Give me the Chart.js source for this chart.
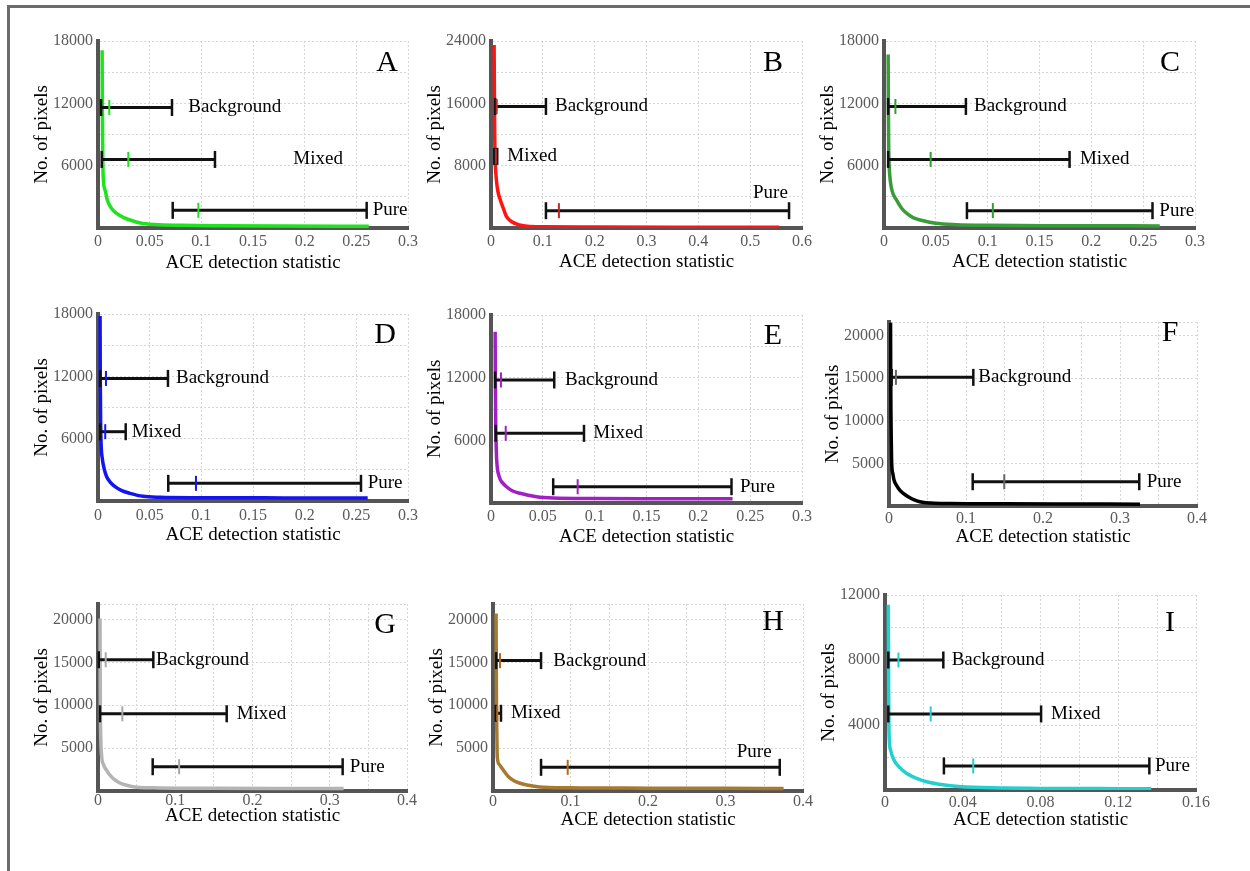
<!DOCTYPE html>
<html>
<head>
<meta charset="utf-8">
<title>ACE detection statistic histograms</title>
<script src="https://cdn.jsdelivr.net/npm/chart.js@4.4.0/dist/chart.umd.min.js"></script>
<style>
  html, body { margin: 0; padding: 0; background: #fff; }
  body { width: 1250px; height: 871px; position: relative; overflow: hidden; }
  .frame { position: absolute; left: 7px; top: 5px; width: 1300px; height: 900px;
           border-top: 3px solid #6b6b6b; border-left: 3px solid #6b6b6b; }
  canvas { position: absolute; }
</style>
</head>
<body>
<div class="frame"></div>
<script>
var SERIF = '"Liberation Serif", "Times New Roman", serif';

var classNames = ['Background', 'Mixed', 'Pure'];
var panelLetters = ['A', 'B', 'C', 'D', 'E', 'F', 'G', 'H', 'I'];

// axis ranges and tick spacing, one entry per panel
var xMax       = [0.3, 0.6, 0.3, 0.3, 0.3, 0.4, 0.4, 0.4, 0.16];
var xGridStep  = [0.05, 0.1, 0.05, 0.05, 0.05, 0.05, 0.05, 0.05, 0.02];
var xLabelStep = [0.05, 0.1, 0.05, 0.05, 0.05, 0.1, 0.1, 0.1, 0.04];
var yMax       = [18000, 24000, 18000, 18000, 18000, 21600, 21800, 21800, 12000];
var yGridStep  = [3000, 4000, 3000, 3000, 3000, 5000, 5000, 5000, 2000];
var yLabelStep = [6000, 8000, 6000, 6000, 6000, 5000, 5000, 5000, 4000];

// histogram curves: [ACE statistic, no. of pixels]
var curveA = [[0.004,17100],[0.0042,12000],[0.0045,8000],[0.005,5000],[0.007,3600],[0.009,2700],[0.013,1900],[0.018,1400],[0.025,1000],[0.031,770],[0.041,480],[0.055,330],[0.08,260],[0.12,220],[0.18,190],[0.262,170]];
var curveB = [[0.006,23500],[0.0065,18000],[0.007,13000],[0.008,9000],[0.01,6500],[0.013,4800],[0.018,3600],[0.025,2300],[0.03,1450],[0.04,800],[0.055,400],[0.07,220],[0.1,160],[0.2,130],[0.35,110],[0.556,100]];
var curveC = [[0.004,16700],[0.0042,12000],[0.0045,8000],[0.005,6000],[0.006,4600],[0.008,3500],[0.012,2700],[0.017,1900],[0.022,1400],[0.028,1000],[0.035,770],[0.05,450],[0.07,320],[0.1,260],[0.18,220],[0.266,200]];
var curveD = [[0.002,17800],[0.0022,12000],[0.0025,8000],[0.003,5500],[0.004,4200],[0.006,3100],[0.0084,2340],[0.012,1800],[0.0165,1380],[0.023,1000],[0.031,740],[0.0435,450],[0.06,360],[0.1,320],[0.18,300],[0.261,290]];
var curveE = [[0.004,16400],[0.0042,12000],[0.0045,8000],[0.005,5500],[0.0055,4100],[0.008,2500],[0.011,1950],[0.015,1560],[0.02,1200],[0.028,930],[0.044,600],[0.06,480],[0.1,430],[0.16,410],[0.233,400]];
var curveF = [[0.002,21500],[0.0022,16000],[0.0025,11000],[0.003,7500],[0.0035,5000],[0.005,3800],[0.0065,3050],[0.01,2400],[0.014,1870],[0.019,1450],[0.025,1090],[0.032,750],[0.04,500],[0.055,350],[0.08,290],[0.15,250],[0.24,230],[0.326,220]];
var curveG = [[0.0026,20100],[0.0028,15000],[0.003,10000],[0.0035,6500],[0.0048,4000],[0.007,3100],[0.011,2430],[0.015,1900],[0.0198,1450],[0.027,1000],[0.037,670],[0.05,450],[0.08,360],[0.15,320],[0.24,300],[0.318,290]];
var curveH = [[0.004,20700],[0.0042,15000],[0.0045,10000],[0.005,6500],[0.0055,4000],[0.008,3100],[0.0133,2430],[0.019,1750],[0.026,1260],[0.035,900],[0.0455,670],[0.06,480],[0.1,380],[0.2,330],[0.3,310],[0.375,300]];
var curveI = [[0.0017,11400],[0.0018,8000],[0.0019,5500],[0.002,4000],[0.0022,3100],[0.003,2400],[0.0046,1850],[0.007,1450],[0.011,1030],[0.016,730],[0.0214,510],[0.028,360],[0.035,250],[0.05,150],[0.08,100],[0.11,85],[0.137,80]];

// class ranges: [min, mean, max, row height in pixels] for Background, Mixed, Pure
var statsA = [[0.003, 0.0109, 0.0716, 11600], [0.0036, 0.0293, 0.1132, 6600], [0.0723, 0.0971, 0.26, 1700]];
var statsB = [[0.008, 0.011, 0.106, 15600], [0.0064, 0.0095, 0.012, 9200], [0.106, 0.131, 0.575, 2220]];
var statsC = [[0.004, 0.011, 0.079, 11700], [0.004, 0.045, 0.179, 6600], [0.080, 0.105, 0.259, 1670]];
var statsD = [[0.002, 0.0077, 0.0677, 11800], [0.002, 0.007, 0.0268, 6670], [0.068, 0.0948, 0.2545, 1700]];
var statsE = [[0.004, 0.0096, 0.061, 11780], [0.0045, 0.0142, 0.0897, 6670], [0.060, 0.0836, 0.232, 1560]];
var statsF = [[0.0035, 0.009, 0.1095, 15100], null, [0.1087, 0.1497, 0.325, 2850]];
var statsG = [[0.001, 0.010, 0.0716, 15300], [0.0026, 0.0315, 0.1666, 9000], [0.0708, 0.105, 0.3167, 2830]];
var statsH = [[0.004, 0.009, 0.062, 15200], [0.0035, 0.0055, 0.0103, 9060], [0.062, 0.0964, 0.370, 2760]];
var statsI = [[0.0017, 0.0069, 0.030, 8000], [0.0017, 0.0235, 0.0803, 4680], [0.0303, 0.0454, 0.136, 1480]];

// where each class name starts: [ACE statistic, no. of pixels]
var labelAtA = [[0.0874, 11600], [0.189, 6600], [0.2658, 1700]];
var labelAtB = [[0.1235, 15600], [0.0315, 9200], [0.5055, 4490]];
var labelAtC = [[0.0868, 11700], [0.189, 6600], [0.2656, 1670]];
var labelAtD = [[0.0755, 11800], [0.0326, 6670], [0.261, 1700]];
var labelAtE = [[0.0714, 11780], [0.0987, 6670], [0.2402, 1560]];
var labelAtF = [[0.116, 15100], null, [0.3347, 2850]];
var labelAtG = [[0.0751, 15300], [0.1795, 9000], [0.326, 2830]];
var labelAtH = [[0.0778, 15200], [0.0232, 9060], [0.3145, 4580]];
var labelAtI = [[0.0343, 8000], [0.0854, 4680], [0.1389, 1480]];

var curves = [curveA, curveB, curveC, curveD, curveE, curveF, curveG, curveH, curveI];
var stats = [statsA, statsB, statsC, statsD, statsE, statsF, statsG, statsH, statsI];
var labelAt = [labelAtA, labelAtB, labelAtC, labelAtD, labelAtE, labelAtF, labelAtG, labelAtH, labelAtI];

// styling
var curveColor = ['#1ee41e', '#ff1414', '#389c38', '#1414f0', '#a020c4', '#000000', '#b4b4b4', '#a87a30', '#22d0d0'];
var meanColor  = ['#1ee41e', '#c02828', '#2fa02f', '#1414f0', '#a020c4', '#666666', '#a8a8a8', '#b06a20', '#22d0d0'];

// plot area of each panel on the page: left, top, right, bottom
var plotBox = [
  [98, 41, 408, 228], [491, 41, 802, 228], [884, 41, 1195, 228],
  [98, 314, 408, 501], [491, 315, 802, 503], [889, 322, 1197, 506],
  [98, 604, 407, 791], [493, 604, 803, 791], [885, 595, 1196, 790]
];
var letterOffset = [[21, 22], [29, 22], [25, 22], [23, 21], [29, 21], [27, 11], [22, 21], [30, 18], [26, 28]];
var xTickGap  = [14, 14, 14, 15, 14, 13, 10, 11, 13];
var xTitleGap = [35, 34, 34, 34, 34, 31, 25, 29, 30];

var Y_AXIS_W = 70, X_AXIS_H = 50, PAD_TOP = 30, PAD_RIGHT = 25;

function fmt(v) { return String(parseFloat(v.toFixed(4))); }
function onStep(v, step) { var r = v / step; return Math.abs(r - Math.round(r)) < 1e-6; }

// evenly spaced ticks from 0, plus the axis end when it is off the step
function stepTicks(max, step) {
  var n = Math.floor(max / step + 1e-6), t = [];
  for (var k = 0; k <= n; k++) t.push({ value: parseFloat((k * step).toFixed(6)) });
  if (Math.abs(n * step - max) > 1e-9) t.push({ value: max });
  return t;
}

var errorBars = {
  id: 'errorBars',
  afterDatasetsDraw: function (chart, args, opts) {
    var ctx = chart.ctx, area = chart.chartArea;
    var xs = chart.scales.x, ys = chart.scales.y;
    var i = opts.panel;
    function seg(x0, y0, x1, y1) { ctx.beginPath(); ctx.moveTo(x0, y0); ctx.lineTo(x1, y1); ctx.stroke(); }
    ctx.save();
    ctx.lineCap = 'butt';
    stats[i].forEach(function (s, k) {
      if (!s) return;
      var x0 = xs.getPixelForValue(s[0]);
      var xm = xs.getPixelForValue(s[1]);
      var x1 = xs.getPixelForValue(s[2]);
      var yy = ys.getPixelForValue(s[3]);
      ctx.strokeStyle = '#111';
      ctx.lineWidth = 3;
      seg(x0, yy, x1, yy);
      ctx.lineWidth = 2.5;
      seg(x0, yy - 8.5, x0, yy + 8.5);
      seg(x1, yy - 8.5, x1, yy + 8.5);
      ctx.strokeStyle = meanColor[i];
      ctx.lineWidth = 2;
      seg(xm, yy - 7.5, xm, yy + 7.5);

      var at = labelAt[i][k];
      ctx.fillStyle = '#000';
      ctx.font = '19px ' + SERIF;
      ctx.textAlign = 'left';
      ctx.textBaseline = 'middle';
      ctx.fillText(classNames[k], xs.getPixelForValue(at[0]), ys.getPixelForValue(at[1]));
    });
    ctx.fillStyle = '#000';
    ctx.font = '30px ' + SERIF;
    ctx.textAlign = 'center';
    ctx.textBaseline = 'middle';
    ctx.fillText(panelLetters[i], area.right - letterOffset[i][0], area.top + letterOffset[i][1]);
    ctx.restore();
  }
};

panelLetters.forEach(function (letter, i) {
  var b = plotBox[i];
  var canvas = document.createElement('canvas');
  var w = (b[2] - b[0]) + Y_AXIS_W + PAD_RIGHT;
  var h = (b[3] - b[1]) + PAD_TOP + X_AXIS_H;
  canvas.width = w;
  canvas.height = h;
  canvas.style.left = (b[0] - Y_AXIS_W) + 'px';
  canvas.style.top = (b[1] - PAD_TOP) + 'px';
  document.body.appendChild(canvas);

  new Chart(canvas.getContext('2d'), {
    type: 'line',
    data: {
      datasets: [{
        data: curves[i].map(function (p) { return { x: p[0], y: p[1] }; }),
        borderColor: curveColor[i],
        borderWidth: 3.5,
        pointRadius: 0,
        fill: false,
        cubicInterpolationMode: 'monotone'
      }]
    },
    options: {
      responsive: false,
      animation: false,
      devicePixelRatio: 1,
      layout: { padding: { top: PAD_TOP, right: PAD_RIGHT, left: 0, bottom: 0 } },
      plugins: {
        legend: { display: false },
        tooltip: { enabled: false },
        errorBars: { panel: i }
      },
      scales: {
        x: {
          type: 'linear',
          min: 0,
          max: xMax[i],
          afterFit: function (s) { s.height = X_AXIS_H; },
          afterBuildTicks: function (s) { s.ticks = stepTicks(xMax[i], xGridStep[i]); },
          ticks: {
            autoSkip: false,
            maxRotation: 0,
            padding: xTickGap[i] - 9.6,
            color: '#5a5a5a',
            font: { family: SERIF, size: 16 },
            callback: function (v) { return onStep(v, xLabelStep[i]) ? fmt(v) : ''; }
          },
          grid: { color: '#d6d6d6', lineWidth: 1, drawTicks: false },
          border: { display: true, color: '#555', width: 4, dash: [2, 2] },
          title: {
            display: true,
            text: 'ACE detection statistic',
            color: '#000',
            font: { family: SERIF, size: 19, lineHeight: 1.2 },
            padding: { top: 0, bottom: X_AXIS_H - xTitleGap[i] - 11.4 }
          }
        },
        y: {
          type: 'linear',
          min: 0,
          max: yMax[i],
          afterFit: function (s) { s.width = Y_AXIS_W; },
          afterBuildTicks: function (s) { s.ticks = stepTicks(yMax[i], yGridStep[i]); },
          ticks: {
            autoSkip: false,
            padding: 5,
            color: '#5a5a5a',
            font: { family: SERIF, size: 16 },
            callback: function (v) { return (v > 0 && onStep(v, yLabelStep[i])) ? String(v) : ''; }
          },
          grid: { color: '#d6d6d6', lineWidth: 1, drawTicks: false },
          border: { display: true, color: '#555', width: 4, dash: [2, 2] },
          title: {
            display: true,
            text: 'No. of pixels',
            color: '#000',
            font: { family: SERIF, size: 19, lineHeight: 1.2 },
            padding: { top: 2.6, bottom: 0 }
          }
        }
      }
    },
    plugins: [errorBars]
  });
});
</script>
</body>
</html>
